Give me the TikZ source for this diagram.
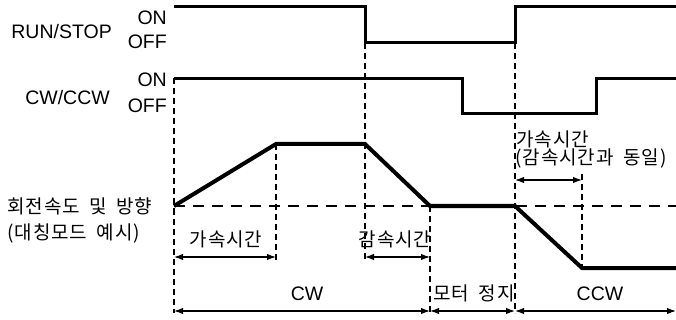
\documentclass[tikz,border=0pt]{standalone}
\usepackage{fontspec}
\setmainfont{Liberation Sans}
\newfontfamily\kr{Noto Sans CJK KR}[WordSpace=1.8, LetterSpace=5]
\usetikzlibrary{arrows.meta}
\begin{document}
\begin{tikzpicture}[x=1pt,y=-1pt,
  lat/.style={font=\fontsize{19.5}{21}\selectfont, inner sep=0pt},
  kor/.style={font=\kr\fontsize{19}{21}\selectfont, inner sep=0pt},
  sig/.style={line width=3pt, line join=miter},
  spd/.style={line width=4pt, line join=miter},
  guide/.style={line width=1.1pt, dash pattern=on 6pt off 4pt},
  zero/.style={line width=1.3pt, dash pattern=on 11pt off 8pt},
  dim/.style={line width=1.2pt, {Latex[length=9pt,width=6.5pt]}-{Latex[length=9pt,width=6.5pt]}}
]
\useasboundingbox (0,0) rectangle (676,320);

% RUN/STOP waveform
\coordinate (r0) at (174,7);
\coordinate (r1) at (365,7);
\coordinate (r2) at (365,43);
\coordinate (r3) at (515,43);
\coordinate (r4) at (515,7);
\coordinate (r5) at (676,7);
% CW/CCW waveform
\coordinate (c0) at (174,78.5);
\coordinate (c1) at (462,78.5);
\coordinate (c2) at (462,114);
\coordinate (c3) at (596,114);
\coordinate (c4) at (596,78.5);
\coordinate (c5) at (676,78.5);
% speed profile
\coordinate (s0) at (174,206);
\coordinate (s1) at (276,144);
\coordinate (s2) at (365,144);
\coordinate (s3) at (430,206);
\coordinate (s4) at (515,206);
\coordinate (s5) at (582,268);
\coordinate (s6) at (676,268);
\coordinate (z1) at (676,206);

% guide ends
\coordinate (g1) at (174,313);
\coordinate (g2) at (276,262);
\coordinate (g3) at (365,262);
\coordinate (g4) at (430,313);
\coordinate (g5) at (515,313);
\coordinate (g6t) at (582,174);

% arrow ends
\coordinate (a1l) at (174,257);
\coordinate (a1r) at (276,257);
\coordinate (a2l) at (365,257);
\coordinate (a2r) at (430,257);
\coordinate (a3l) at (515,180);
\coordinate (a3r) at (582,180);
\coordinate (b0) at (174,311);
\coordinate (b1) at (430,311);
\coordinate (b2) at (515,311);
\coordinate (b3) at (676,311);

% guides
\draw[guide] (c0) -- (g1);
\draw[guide] (s1) -- (g2);
\draw[guide] (r2) -- (g3);
\draw[guide] (s3) -- (g4);
\draw[guide] (r3) -- (g5);
\draw[guide] (g6t) -- (s5);
\draw[zero] (s0) -- (z1);

% waveforms
\draw[sig] (r0) -- (r1) -- (r2) -- (r3) -- (r4) -- (r5);
\draw[sig] (c0) -- (c1) -- (c2) -- (c3) -- (c4) -- (c5);
\draw[spd] (s0) -- (s1) -- (s2) -- (s3) -- (s4) -- (s5) -- (s6);

% dimension arrows
\draw[dim] (a1l) -- (a1r);
\draw[dim] (a2l) -- (a2r);
\draw[dim] (a3l) -- (a3r);
\draw[dim] (b0) -- (b1);
\draw[dim] (b1) -- (b2);
\draw[dim] (b2) -- (b3);

% left labels
\node[lat, anchor=base east] (runstop) at (112,39) {RUN/STOP};
\node[lat, anchor=base east] (on1) at (167,25) {ON};
\node[lat, anchor=base east] (off1) at (167,49) {OFF};
\node[lat, anchor=base east] (cwccw) at (110,105) {CW/CCW};
\node[lat, anchor=base east] (on2) at (167,87) {ON};
\node[lat, anchor=base east] (off2) at (167,113) {OFF};
\node[kor, anchor=base west] (speed) at (7,213) {회전속도 및 방향};
\node[kor, anchor=base west] (mode) at (7,239) {(대칭모드 예시)};

% time labels
\node[kor, anchor=base] (acc) at (226,246) {가속시간};
\node[kor, anchor=base] (dec) at (395,246) {감속시간};
\node[kor, anchor=base west] (acc2) at (516,147) {가속시간};
\node[kor, anchor=base west] (same) at (515,165) {(감속시간과 동일)};
\node[lat, anchor=base] (cw) at (307,300) {CW};
\node[kor, anchor=base] (stop) at (474,300) {모터 정지};
\node[lat, anchor=base] (ccw) at (600,300) {CCW};
\end{tikzpicture}
\end{document}
